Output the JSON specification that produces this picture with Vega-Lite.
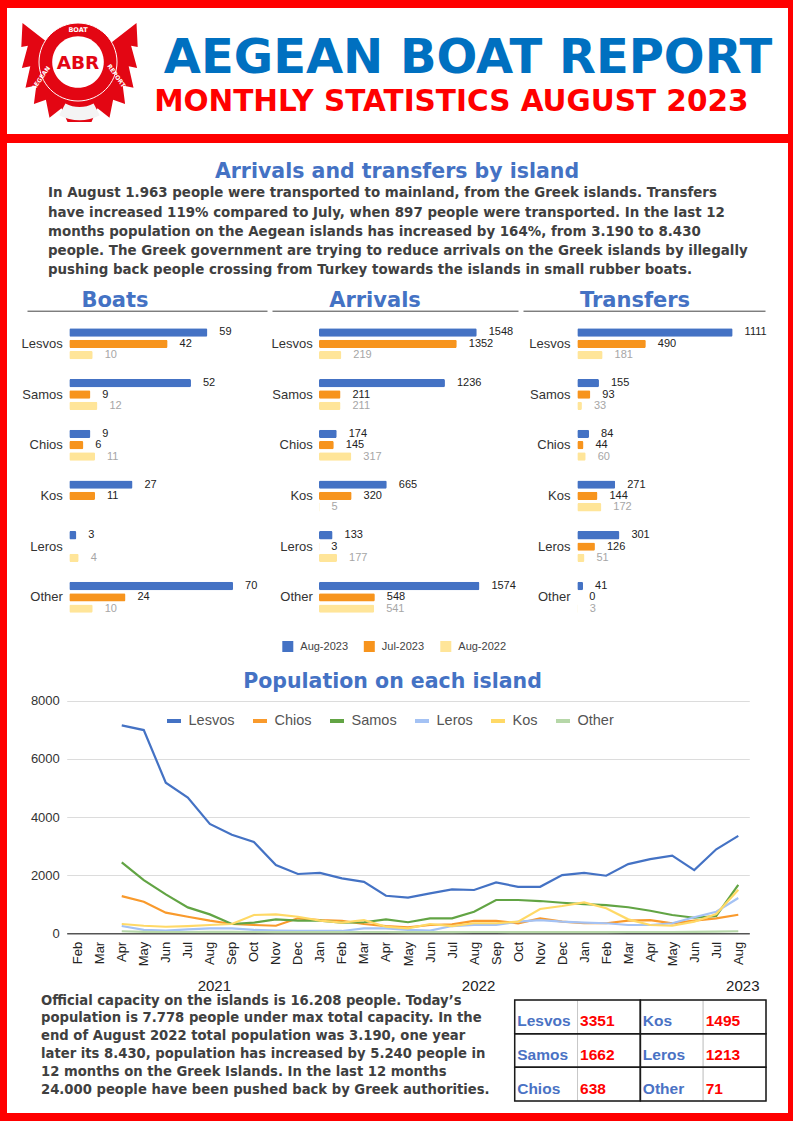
{
"$schema": "https://vega.github.io/schema/vega-lite/v6.json",
"background": "#ff0000",
"padding": {"left": 7, "right": 5, "top": 8, "bottom": 8},
"config": {"view": {"stroke": null, "fill": "#ffffff"}, "font": "Liberation Sans", "concat": {"spacing": 0}},
"datasets": {
"logo": [{"item": "logo"}],
"bars": [
{"metric":"Boats","island":"Lesvos","series":"Aug-2023","value":59},
{"metric":"Boats","island":"Lesvos","series":"Jul-2023","value":42},
{"metric":"Boats","island":"Lesvos","series":"Aug-2022","value":10},
{"metric":"Boats","island":"Samos","series":"Aug-2023","value":52},
{"metric":"Boats","island":"Samos","series":"Jul-2023","value":9},
{"metric":"Boats","island":"Samos","series":"Aug-2022","value":12},
{"metric":"Boats","island":"Chios","series":"Aug-2023","value":9},
{"metric":"Boats","island":"Chios","series":"Jul-2023","value":6},
{"metric":"Boats","island":"Chios","series":"Aug-2022","value":11},
{"metric":"Boats","island":"Kos","series":"Aug-2023","value":27},
{"metric":"Boats","island":"Kos","series":"Jul-2023","value":11},
{"metric":"Boats","island":"Leros","series":"Aug-2023","value":3},
{"metric":"Boats","island":"Leros","series":"Aug-2022","value":4},
{"metric":"Boats","island":"Other","series":"Aug-2023","value":70},
{"metric":"Boats","island":"Other","series":"Jul-2023","value":24},
{"metric":"Boats","island":"Other","series":"Aug-2022","value":10},
{"metric":"Arrivals","island":"Lesvos","series":"Aug-2023","value":1548},
{"metric":"Arrivals","island":"Lesvos","series":"Jul-2023","value":1352},
{"metric":"Arrivals","island":"Lesvos","series":"Aug-2022","value":219},
{"metric":"Arrivals","island":"Samos","series":"Aug-2023","value":1236},
{"metric":"Arrivals","island":"Samos","series":"Jul-2023","value":211},
{"metric":"Arrivals","island":"Samos","series":"Aug-2022","value":211},
{"metric":"Arrivals","island":"Chios","series":"Aug-2023","value":174},
{"metric":"Arrivals","island":"Chios","series":"Jul-2023","value":145},
{"metric":"Arrivals","island":"Chios","series":"Aug-2022","value":317},
{"metric":"Arrivals","island":"Kos","series":"Aug-2023","value":665},
{"metric":"Arrivals","island":"Kos","series":"Jul-2023","value":320},
{"metric":"Arrivals","island":"Kos","series":"Aug-2022","value":5},
{"metric":"Arrivals","island":"Leros","series":"Aug-2023","value":133},
{"metric":"Arrivals","island":"Leros","series":"Jul-2023","value":3},
{"metric":"Arrivals","island":"Leros","series":"Aug-2022","value":177},
{"metric":"Arrivals","island":"Other","series":"Aug-2023","value":1574},
{"metric":"Arrivals","island":"Other","series":"Jul-2023","value":548},
{"metric":"Arrivals","island":"Other","series":"Aug-2022","value":541},
{"metric":"Transfers","island":"Lesvos","series":"Aug-2023","value":1111},
{"metric":"Transfers","island":"Lesvos","series":"Jul-2023","value":490},
{"metric":"Transfers","island":"Lesvos","series":"Aug-2022","value":181},
{"metric":"Transfers","island":"Samos","series":"Aug-2023","value":155},
{"metric":"Transfers","island":"Samos","series":"Jul-2023","value":93},
{"metric":"Transfers","island":"Samos","series":"Aug-2022","value":33},
{"metric":"Transfers","island":"Chios","series":"Aug-2023","value":84},
{"metric":"Transfers","island":"Chios","series":"Jul-2023","value":44},
{"metric":"Transfers","island":"Chios","series":"Aug-2022","value":60},
{"metric":"Transfers","island":"Kos","series":"Aug-2023","value":271},
{"metric":"Transfers","island":"Kos","series":"Jul-2023","value":144},
{"metric":"Transfers","island":"Kos","series":"Aug-2022","value":172},
{"metric":"Transfers","island":"Leros","series":"Aug-2023","value":301},
{"metric":"Transfers","island":"Leros","series":"Jul-2023","value":126},
{"metric":"Transfers","island":"Leros","series":"Aug-2022","value":51},
{"metric":"Transfers","island":"Other","series":"Aug-2023","value":41},
{"metric":"Transfers","island":"Other","series":"Jul-2023","value":0},
{"metric":"Transfers","island":"Other","series":"Aug-2022","value":3}
],
"population": [
{"month":"2021-04","island":"Lesvos","people":7150},{"month":"2021-05","island":"Lesvos","people":6990},{"month":"2021-06","island":"Lesvos","people":5180},{"month":"2021-07","island":"Lesvos","people":4670},{"month":"2021-08","island":"Lesvos","people":3760},{"month":"2021-09","island":"Lesvos","people":3390},{"month":"2021-10","island":"Lesvos","people":3140},{"month":"2021-11","island":"Lesvos","people":2350},{"month":"2021-12","island":"Lesvos","people":2040},
{"month":"2022-01","island":"Lesvos","people":2080},{"month":"2022-02","island":"Lesvos","people":1890},{"month":"2022-03","island":"Lesvos","people":1770},{"month":"2022-04","island":"Lesvos","people":1290},{"month":"2022-05","island":"Lesvos","people":1225},{"month":"2022-06","island":"Lesvos","people":1375},{"month":"2022-07","island":"Lesvos","people":1510},{"month":"2022-08","island":"Lesvos","people":1490},{"month":"2022-09","island":"Lesvos","people":1750},{"month":"2022-10","island":"Lesvos","people":1600},{"month":"2022-11","island":"Lesvos","people":1600},{"month":"2022-12","island":"Lesvos","people":2000},
{"month":"2023-01","island":"Lesvos","people":2080},{"month":"2023-02","island":"Lesvos","people":1980},{"month":"2023-03","island":"Lesvos","people":2380},{"month":"2023-04","island":"Lesvos","people":2550},{"month":"2023-05","island":"Lesvos","people":2670},{"month":"2023-06","island":"Lesvos","people":2175},{"month":"2023-07","island":"Lesvos","people":2890},{"month":"2023-08","island":"Lesvos","people":3351},
{"month":"2021-04","island":"Chios","people":1280},{"month":"2021-05","island":"Chios","people":1085},{"month":"2021-06","island":"Chios","people":710},{"month":"2021-07","island":"Chios","people":570},{"month":"2021-08","island":"Chios","people":435},{"month":"2021-09","island":"Chios","people":320},{"month":"2021-10","island":"Chios","people":285},{"month":"2021-11","island":"Chios","people":260},{"month":"2021-12","island":"Chios","people":515},
{"month":"2022-01","island":"Chios","people":455},{"month":"2022-02","island":"Chios","people":425},{"month":"2022-03","island":"Chios","people":320},{"month":"2022-04","island":"Chios","people":250},{"month":"2022-05","island":"Chios","people":205},{"month":"2022-06","island":"Chios","people":285},{"month":"2022-07","island":"Chios","people":310},{"month":"2022-08","island":"Chios","people":425},{"month":"2022-09","island":"Chios","people":425},{"month":"2022-10","island":"Chios","people":345},{"month":"2022-11","island":"Chios","people":515},{"month":"2022-12","island":"Chios","people":400},
{"month":"2023-01","island":"Chios","people":345},{"month":"2023-02","island":"Chios","people":345},{"month":"2023-03","island":"Chios","people":435},{"month":"2023-04","island":"Chios","people":455},{"month":"2023-05","island":"Chios","people":345},{"month":"2023-06","island":"Chios","people":435},{"month":"2023-07","island":"Chios","people":515},{"month":"2023-08","island":"Chios","people":638},
{"month":"2021-04","island":"Samos","people":2440},{"month":"2021-05","island":"Samos","people":1830},{"month":"2021-06","island":"Samos","people":1340},{"month":"2021-07","island":"Samos","people":890},{"month":"2021-08","island":"Samos","people":650},{"month":"2021-09","island":"Samos","people":320},{"month":"2021-10","island":"Samos","people":365},{"month":"2021-11","island":"Samos","people":480},{"month":"2021-12","island":"Samos","people":435},
{"month":"2022-01","island":"Samos","people":435},{"month":"2022-02","island":"Samos","people":365},{"month":"2022-03","island":"Samos","people":380},{"month":"2022-04","island":"Samos","people":480},{"month":"2022-05","island":"Samos","people":380},{"month":"2022-06","island":"Samos","people":515},{"month":"2022-07","island":"Samos","people":515},{"month":"2022-08","island":"Samos","people":740},{"month":"2022-09","island":"Samos","people":1145},{"month":"2022-10","island":"Samos","people":1145},{"month":"2022-11","island":"Samos","people":1110},{"month":"2022-12","island":"Samos","people":1050},
{"month":"2023-01","island":"Samos","people":1005},{"month":"2023-02","island":"Samos","people":970},{"month":"2023-03","island":"Samos","people":895},{"month":"2023-04","island":"Samos","people":775},{"month":"2023-05","island":"Samos","people":630},{"month":"2023-06","island":"Samos","people":535},{"month":"2023-07","island":"Samos","people":595},{"month":"2023-08","island":"Samos","people":1662},
{"month":"2021-04","island":"Leros","people":250},{"month":"2021-05","island":"Leros","people":115},{"month":"2021-06","island":"Leros","people":90},{"month":"2021-07","island":"Leros","people":135},{"month":"2021-08","island":"Leros","people":170},{"month":"2021-09","island":"Leros","people":170},{"month":"2021-10","island":"Leros","people":115},{"month":"2021-11","island":"Leros","people":90},{"month":"2021-12","island":"Leros","people":80},
{"month":"2022-01","island":"Leros","people":80},{"month":"2022-02","island":"Leros","people":80},{"month":"2022-03","island":"Leros","people":170},{"month":"2022-04","island":"Leros","people":170},{"month":"2022-05","island":"Leros","people":115},{"month":"2022-06","island":"Leros","people":90},{"month":"2022-07","island":"Leros","people":250},{"month":"2022-08","island":"Leros","people":285},{"month":"2022-09","island":"Leros","people":285},{"month":"2022-10","island":"Leros","people":400},{"month":"2022-11","island":"Leros","people":455},{"month":"2022-12","island":"Leros","people":400},
{"month":"2023-01","island":"Leros","people":365},{"month":"2023-02","island":"Leros","people":345},{"month":"2023-03","island":"Leros","people":285},{"month":"2023-04","island":"Leros","people":285},{"month":"2023-05","island":"Leros","people":345},{"month":"2023-06","island":"Leros","people":550},{"month":"2023-07","island":"Leros","people":740},{"month":"2023-08","island":"Leros","people":1213},
{"month":"2021-04","island":"Kos","people":320},{"month":"2021-05","island":"Kos","people":260},{"month":"2021-06","island":"Kos","people":225},{"month":"2021-07","island":"Kos","people":250},{"month":"2021-08","island":"Kos","people":285},{"month":"2021-09","island":"Kos","people":320},{"month":"2021-10","island":"Kos","people":630},{"month":"2021-11","island":"Kos","people":650},{"month":"2021-12","island":"Kos","people":570},
{"month":"2022-01","island":"Kos","people":435},{"month":"2022-02","island":"Kos","people":365},{"month":"2022-03","island":"Kos","people":455},{"month":"2022-04","island":"Kos","people":225},{"month":"2022-05","island":"Kos","people":170},{"month":"2022-06","island":"Kos","people":320},{"month":"2022-07","island":"Kos","people":250},{"month":"2022-08","island":"Kos","people":345},{"month":"2022-09","island":"Kos","people":345},{"month":"2022-10","island":"Kos","people":400},{"month":"2022-11","island":"Kos","people":835},{"month":"2022-12","island":"Kos","people":940},
{"month":"2023-01","island":"Kos","people":1065},{"month":"2023-02","island":"Kos","people":860},{"month":"2023-03","island":"Kos","people":480},{"month":"2023-04","island":"Kos","people":285},{"month":"2023-05","island":"Kos","people":260},{"month":"2023-06","island":"Kos","people":400},{"month":"2023-07","island":"Kos","people":665},{"month":"2023-08","island":"Kos","people":1495},
{"month":"2021-04","island":"Other","people":70},{"month":"2021-05","island":"Other","people":50},{"month":"2021-06","island":"Other","people":45},{"month":"2021-07","island":"Other","people":45},{"month":"2021-08","island":"Other","people":50},{"month":"2021-09","island":"Other","people":50},{"month":"2021-10","island":"Other","people":45},{"month":"2021-11","island":"Other","people":40},{"month":"2021-12","island":"Other","people":40},
{"month":"2022-01","island":"Other","people":40},{"month":"2022-02","island":"Other","people":40},{"month":"2022-03","island":"Other","people":45},{"month":"2022-04","island":"Other","people":45},{"month":"2022-05","island":"Other","people":40},{"month":"2022-06","island":"Other","people":40},{"month":"2022-07","island":"Other","people":40},{"month":"2022-08","island":"Other","people":45},{"month":"2022-09","island":"Other","people":45},{"month":"2022-10","island":"Other","people":40},{"month":"2022-11","island":"Other","people":40},{"month":"2022-12","island":"Other","people":40},
{"month":"2023-01","island":"Other","people":40},{"month":"2023-02","island":"Other","people":40},{"month":"2023-03","island":"Other","people":45},{"month":"2023-04","island":"Other","people":45},{"month":"2023-05","island":"Other","people":45},{"month":"2023-06","island":"Other","people":50},{"month":"2023-07","island":"Other","people":55},{"month":"2023-08","island":"Other","people":71}
],
"table": [
{"island":"Lesvos","people":3351,"row":1,"side":"left"},
{"island":"Kos","people":1495,"row":1,"side":"right"},
{"island":"Samos","people":1662,"row":2,"side":"left"},
{"island":"Leros","people":1213,"row":2,"side":"right"},
{"island":"Chios","people":638,"row":3,"side":"left"},
{"island":"Other","people":71,"row":3,"side":"right"}
]
},
"spacing": 9,
"vconcat": [
{
"hconcat": [
{
"width": 145, "height": 126,
"view": {"fill": "#ffffff", "stroke": null},
"data": {"name": "logo"},
"layer": [
{"mark": {"type": "point", "shape": "M -0.5 -0.45 L -0.95 -0.8 L -0.97 -0.4 L -0.86 -0.42 L -0.96 -0.05 L -0.82 -0.08 L -0.9 0.28 L -0.72 0.24 L -0.76 0.55 L -0.56 0.48 L -0.5 0.78 L -0.3 0.62 L -0.2 0.85 L 0.2 0.85 L 0.3 0.62 L 0.5 0.78 L 0.56 0.48 L 0.76 0.55 L 0.72 0.24 L 0.9 0.28 L 0.82 -0.08 L 0.96 -0.05 L 0.86 -0.42 L 0.97 -0.4 L 0.95 -0.8 L 0.5 -0.45 Z", "size": 14400, "filled": true, "fill": "#e30613", "opacity": 1, "strokeWidth": 0}, "encoding": {}},
{"mark": {"type": "point", "shape": "M -0.675 -0.15 A 0.65 0.65 0 1 0 0.625 -0.15 A 0.65 0.65 0 1 0 -0.675 -0.15 Z", "size": 14400, "filled": true, "fill": "#e30613", "opacity": 1, "stroke": "#ffffff", "strokeWidth": 1}, "encoding": {}},
{"mark": {"type": "point", "shape": "M -0.455 -0.15 A 0.43 0.43 0 1 0 0.405 -0.15 A 0.43 0.43 0 1 0 -0.455 -0.15 Z", "size": 14400, "filled": true, "fill": "#ffffff", "opacity": 1, "strokeWidth": 0}, "encoding": {}},
{"mark": {"type": "point", "shape": "M 0.338 0.736 A 0.72 0.72 0 0 1 -0.338 0.736 L -0.235 0.541 A 0.5 0.5 0 0 0 0.235 0.541 Z", "size": 14400, "filled": true, "fill": "#f4f4f4", "opacity": 1, "strokeWidth": 0}, "encoding": {}},
{"mark": {"type": "text", "text": "ABR", "font": "DejaVu Sans", "fontWeight": "bold", "fontSize": 18.5, "fill": "#e30613", "align": "center", "baseline": "middle", "dx": -1.5, "dy": -8.5}, "encoding": {}},
{"mark": {"type": "text", "text": "BOAT", "font": "DejaVu Sans", "fontWeight": "bold", "fontSize": 6.5, "fill": "#ffffff", "align": "center", "baseline": "middle", "dx": -1.5, "dy": -41.5}, "encoding": {}},
{"mark": {"type": "text", "text": "AEGEAN", "font": "DejaVu Sans", "fontWeight": "bold", "fontSize": 6, "fill": "#ffffff", "align": "center", "baseline": "middle", "angle": 305, "dx": -28, "dy": -27.5}, "encoding": {}},
{"mark": {"type": "text", "text": "REPORT", "font": "DejaVu Sans", "fontWeight": "bold", "fontSize": 6, "fill": "#ffffff", "align": "center", "baseline": "middle", "angle": 55, "dx": 25, "dy": -27.5}, "encoding": {}}
]
},
{
"vconcat": [
{"width": 636, "height": 75, "view": {"fill": "#ffffff", "stroke": null}, "data": {"values": []}, "mark": "point", "encoding": {},
 "title": {"text": "AEGEAN BOAT REPORT", "anchor": "middle", "frame": "group", "font": "DejaVu Sans", "fontWeight": "bold", "fontSize": 48, "color": "#0070c0", "dx": -2, "offset": -74.8}},
{"width": 636, "height": 51, "view": {"fill": "#ffffff", "stroke": null}, "data": {"values": []}, "mark": "point", "encoding": {},
 "title": {"text": "MONTHLY STATISTICS AUGUST 2023", "anchor": "middle", "frame": "group", "font": "DejaVu Sans", "fontWeight": "bold", "fontSize": 29.5, "color": "#ff0000", "dx": -18.7, "offset": -34.9}}
],
"spacing": 0
}
],
"spacing": 0
},
{
"vconcat": [
{"width": 781, "height": 40, "view": {"fill": "#ffffff", "stroke": null}, "data": {"values": []}, "mark": "point", "encoding": {},
 "title": {"text": "Arrivals and transfers by island", "anchor": "middle", "frame": "group", "font": "DejaVu Sans", "fontWeight": "bold", "fontSize": 20.5, "color": "#4472c4", "dx": -0.5, "offset": -39.8}},
{"width": 781, "height": 99, "view": {"fill": "#ffffff", "stroke": null}, "data": {"values": []}, "mark": "point", "encoding": {},
 "title": {"text": ["In August 1.963 people were transported to mainland, from the Greek islands. Transfers", "have increased 119% compared to July, when 897 people were transported. In the last 12", "months population on the Aegean islands has increased by 164%, from 3.190 to 8.430", "people. The Greek government are trying to reduce arrivals on the Greek islands by illegally", "pushing back people crossing from Turkey towards the islands in small rubber boats."],
  "anchor": "start", "frame": "group", "font": "DejaVu Sans", "fontWeight": "bold", "fontSize": 13.4, "lineHeight": 19.2, "color": "#404040", "dx": 41, "offset": -93.6}},
{
"hconcat": [
{
"width": 261, "height": 383,
"title": {"text": "Boats", "anchor": "middle", "frame": "group", "font": "DejaVu Sans", "fontWeight": "bold", "fontSize": 21, "color": "#4472c4", "dx": -22.5, "offset": -29.1},
"data": {"name": "bars"},
"transform": [{"filter": "datum.metric === 'Boats'"}],
"encoding": {
"y": {"field": "island", "type": "nominal", "sort": null, "scale": {"domain": ["Lesvos","Samos","Chios","Kos","Leros","Other"], "range": [36.45, 340.65], "paddingInner": 0.33, "paddingOuter": 0.165}, "axis": {"orient": "left", "offset": -62.3, "labelPadding": 7, "domain": false, "ticks": false, "grid": false, "title": null, "labelFontSize": 13, "labelColor": "#333333"}},
"yOffset": {"field": "series", "type": "nominal", "scale": {"domain": ["Aug-2023","Jul-2023","Aug-2022"], "paddingInner": 0.265, "paddingOuter": 0.1325}},
"x": {"field": "value", "type": "quantitative", "scale": {"domain": [-18.08, 84.49], "range": [20, 260], "nice": false}, "axis": {"orient": "top", "offset": -28.7, "domain": true, "domainColor": "#444444", "domainWidth": 1, "ticks": false, "labels": false, "grid": false, "title": null}}
},
"layer": [
{"mark": {"type": "bar", "cornerRadius": 1.5}, "encoding": {"color": {"field": "series", "type": "nominal", "scale": {"domain": ["Aug-2023","Jul-2023","Aug-2022"], "range": ["#4472c4","#f7941d","#ffe599"]}, "legend": {"orient": "none", "legendX": 275.3, "legendY": 359, "direction": "horizontal", "title": null, "symbolType": "square", "symbolSize": 121, "symbolStrokeWidth": 0, "labelFontSize": 11, "labelColor": "#444444", "labelOffset": 7, "columnPadding": 15.5, "padding": 0}}}},
{"mark": {"type": "text", "align": "left", "baseline": "middle", "dx": 12, "fontSize": 11}, "encoding": {"text": {"field": "value", "type": "quantitative", "format": "d"}, "color": {"condition": {"test": "datum.series === 'Aug-2022'", "value": "#a6a6a6"}, "value": "#222222"}}}
]
},
{
"width": 252, "height": 383,
"title": {"text": "Arrivals", "anchor": "middle", "frame": "group", "font": "DejaVu Sans", "fontWeight": "bold", "fontSize": 21, "color": "#4472c4", "dx": -19, "offset": -29.1},
"data": {"name": "bars"},
"transform": [{"filter": "datum.metric === 'Arrivals'"}],
"encoding": {
"y": {"field": "island", "type": "nominal", "sort": null, "scale": {"domain": ["Lesvos","Samos","Chios","Kos","Leros","Other"], "range": [36.45, 340.65], "paddingInner": 0.33, "paddingOuter": 0.165}, "axis": {"orient": "left", "offset": -51, "labelPadding": 6.7, "domain": false, "ticks": false, "grid": false, "title": null, "labelFontSize": 13, "labelColor": "#333333"}},
"yOffset": {"field": "series", "type": "nominal", "scale": {"domain": ["Aug-2023","Jul-2023","Aug-2022"], "paddingInner": 0.265, "paddingOuter": 0.1325}},
"x": {"field": "value", "type": "quantitative", "scale": {"domain": [-461.2, 1952.9], "range": [4, 250], "nice": false}, "axis": {"orient": "top", "offset": -28.7, "domain": true, "domainColor": "#444444", "domainWidth": 1, "ticks": false, "labels": false, "grid": false, "title": null}}
},
"layer": [
{"mark": {"type": "bar", "cornerRadius": 1.5}, "encoding": {"color": {"field": "series", "type": "nominal", "scale": {"domain": ["Aug-2023","Jul-2023","Aug-2022"], "range": ["#4472c4","#f7941d","#ffe599"]}, "legend": {"orient": "none", "legendX": 275.3, "legendY": 359, "direction": "horizontal", "title": null, "symbolType": "square", "symbolSize": 121, "symbolStrokeWidth": 0, "labelFontSize": 11, "labelColor": "#444444", "labelOffset": 7, "columnPadding": 15.5, "padding": 0}}}},
{"mark": {"type": "text", "align": "left", "baseline": "middle", "dx": 12, "fontSize": 11}, "encoding": {"text": {"field": "value", "type": "quantitative", "format": "d"}, "color": {"condition": {"test": "datum.series === 'Aug-2022'", "value": "#a6a6a6"}, "value": "#222222"}}}
]
},
{
"width": 268, "height": 383,
"title": {"text": "Transfers", "anchor": "middle", "frame": "group", "font": "DejaVu Sans", "fontWeight": "bold", "fontSize": 21, "color": "#4472c4", "dx": -19, "offset": -29.1},
"data": {"name": "bars"},
"transform": [{"filter": "datum.metric === 'Transfers'"}],
"encoding": {
"y": {"field": "island", "type": "nominal", "sort": null, "scale": {"domain": ["Lesvos","Samos","Chios","Kos","Leros","Other"], "range": [36.45, 340.65], "paddingInner": 0.33, "paddingOuter": 0.165}, "axis": {"orient": "left", "offset": -57.3, "labelPadding": 7.3, "domain": false, "ticks": false, "grid": false, "title": null, "labelFontSize": 13, "labelColor": "#333333"}},
"yOffset": {"field": "series", "type": "nominal", "scale": {"domain": ["Aug-2023","Jul-2023","Aug-2022"], "paddingInner": 0.265, "paddingOuter": 0.1325}},
"x": {"field": "value", "type": "quantitative", "scale": {"domain": [-388.4, 1342.6], "range": [3, 245], "nice": false}, "axis": {"orient": "top", "offset": -28.7, "domain": true, "domainColor": "#444444", "domainWidth": 1, "ticks": false, "labels": false, "grid": false, "title": null}}
},
"layer": [
{"mark": {"type": "bar", "cornerRadius": 1.5}, "encoding": {"color": {"field": "series", "type": "nominal", "scale": {"domain": ["Aug-2023","Jul-2023","Aug-2022"], "range": ["#4472c4","#f7941d","#ffe599"]}, "legend": {"orient": "none", "legendX": 275.3, "legendY": 359, "direction": "horizontal", "title": null, "symbolType": "square", "symbolSize": 121, "symbolStrokeWidth": 0, "labelFontSize": 11, "labelColor": "#444444", "labelOffset": 7, "columnPadding": 15.5, "padding": 0}}}},
{"mark": {"type": "text", "align": "left", "baseline": "middle", "dx": 12, "fontSize": 11}, "encoding": {"text": {"field": "value", "type": "quantitative", "format": "d"}, "color": {"condition": {"test": "datum.series === 'Aug-2022'", "value": "#a6a6a6"}, "value": "#222222"}}}
]
}
],
"spacing": 0,
"resolve": {"scale": {"x": "independent", "y": "independent", "yOffset": "independent"}}
},
{
"width": 781, "height": 328,
"title": {"text": "Population on each island", "anchor": "middle", "frame": "group", "font": "DejaVu Sans", "fontWeight": "bold", "fontSize": 20.5, "color": "#4472c4", "dx": -5, "offset": -27.3},
"data": {"name": "population"},
"encoding": {
"y": {"field": "people", "type": "quantitative", "scale": {"domain": [0, 8000], "range": [268.3, 35.7], "nice": false}, "axis": {"orient": "left", "offset": -59.7, "values": [0, 2000, 4000, 6000, 8000], "format": "d", "labelPadding": 7.4, "labelFontSize": 13, "labelColor": "#333333", "domain": false, "ticks": false, "grid": true, "gridColor": "#dcdcdc", "gridWidth": 1.2, "title": null}}
},
"layer": [
{"mark": {"type": "line", "strokeWidth": 2.2}, "encoding": {
"x": {"field": "month", "type": "ordinal", "scale": {"type": "point", "domain": ["2021-02","2021-03","2021-04","2021-05","2021-06","2021-07","2021-08","2021-09","2021-10","2021-11","2021-12","2022-01","2022-02","2022-03","2022-04","2022-05","2022-06","2022-07","2022-08","2022-09","2022-10","2022-11","2022-12","2023-01","2023-02","2023-03","2023-04","2023-05","2023-06","2023-07","2023-08"], "range": [59.7, 742.3], "padding": 0.5}, "axis": {"orient": "bottom", "offset": -59.7, "labelAngle": 270, "labelExpr": "['Jan','Feb','Mar','Apr','May','Jun','Jul','Aug','Sep','Oct','Nov','Dec'][toNumber(slice(datum.value, 5, 7)) - 1]", "labelFontSize": 13, "labelColor": "#222222", "labelPadding": 8, "ticks": false, "domain": true, "domainColor": "#555555", "domainWidth": 1.5, "grid": false, "title": null, "labelOverlap": false}},
"color": {"field": "island", "type": "nominal", "scale": {"domain": ["Lesvos","Chios","Samos","Leros","Kos","Other"], "range": ["#4472c4","#f99a2c","#62a444","#a4c2f4","#ffd966","#b6d7a8"]}, "legend": {"orient": "none", "legendX": 158, "legendY": 47, "direction": "horizontal", "title": null, "symbolType": "stroke", "symbolSize": 196, "symbolStrokeWidth": 4, "labelFontSize": 14.5, "labelColor": "#555555", "labelOffset": 5.5, "columnPadding": 10, "padding": 0}}
}},
{"mark": {"type": "point", "opacity": 0}, "encoding": {
"x": {"field": "month", "type": "ordinal", "axis": {"orient": "bottom", "offset": -8, "values": ["2021-08","2022-08","2023-08"], "labelExpr": "slice(datum.value, 0, 4)", "labelAngle": 0, "labelBaseline": "middle", "labelPadding": 0, "labelOffset": 4, "labelFontSize": 15, "labelColor": "#222222", "domain": false, "ticks": false, "grid": false, "title": null, "labelOverlap": false}}
}}
],
"resolve": {"axis": {"x": "independent"}}
},
{
"hconcat": [
{"width": 500, "height": 120, "view": {"fill": "#ffffff", "stroke": null}, "data": {"values": []}, "mark": "point", "encoding": {},
 "title": {"text": ["Official capacity on the islands is 16.208 people. Today’s", "population is 7.778 people under max total capacity. In the", "end of August 2022 total population was 3.190, one year", "later its 8.430, population has increased by 5.240 people in", "12 months on the Greek Islands. In the last 12 months", "24.000 people have been pushed back by Greek authorities."],
  "anchor": "start", "frame": "group", "font": "DejaVu Sans", "fontWeight": "bold", "fontSize": 13.2, "lineHeight": 17.8, "color": "#404040", "dx": 34, "offset": -103.8}},
{
"width": 281, "height": 120,
"data": {"name": "table"},
"encoding": {
"x": {"field": "side", "type": "nominal", "scale": {"domain": ["left","right"], "range": [7.7, 259], "paddingInner": 0, "paddingOuter": 0}, "axis": null},
"y": {"field": "row", "type": "ordinal", "scale": {"domain": [1,2,3], "range": [7, 108], "paddingInner": 0, "paddingOuter": 0}, "axis": null}
},
"layer": [
{"transform": [{"fold": ["island", "people"], "as": ["part", "content"]}],
 "mark": {"type": "rect", "fill": "#ffffff", "stroke": "#c8c8c8", "strokeWidth": 1},
 "encoding": {"xOffset": {"field": "part", "type": "nominal", "scale": {"domain": ["island","people"], "paddingInner": 0, "paddingOuter": 0}}}},
{"mark": {"type": "rect", "fill": "transparent", "stroke": "#1a1a1a", "strokeWidth": 1.5}},
{"transform": [{"fold": ["island", "people"], "as": ["part", "content"]}],
 "mark": {"type": "text", "align": "left", "baseline": "alphabetic", "dx": -28.9, "dy": 9.6, "font": "Liberation Sans", "fontWeight": "bold", "fontSize": 15.5},
 "encoding": {"xOffset": {"field": "part", "type": "nominal", "scale": {"domain": ["island","people"], "paddingInner": 0, "paddingOuter": 0}}, "text": {"field": "content", "type": "nominal"}, "color": {"condition": {"test": "datum.part === 'island'", "value": "#4a72c4"}, "value": "#ff0000"}}}
]
}
],
"spacing": 0
}
],
"spacing": 0,
"resolve": {"scale": {"color": "independent"}, "legend": {"color": "independent"}}
}
]
}
